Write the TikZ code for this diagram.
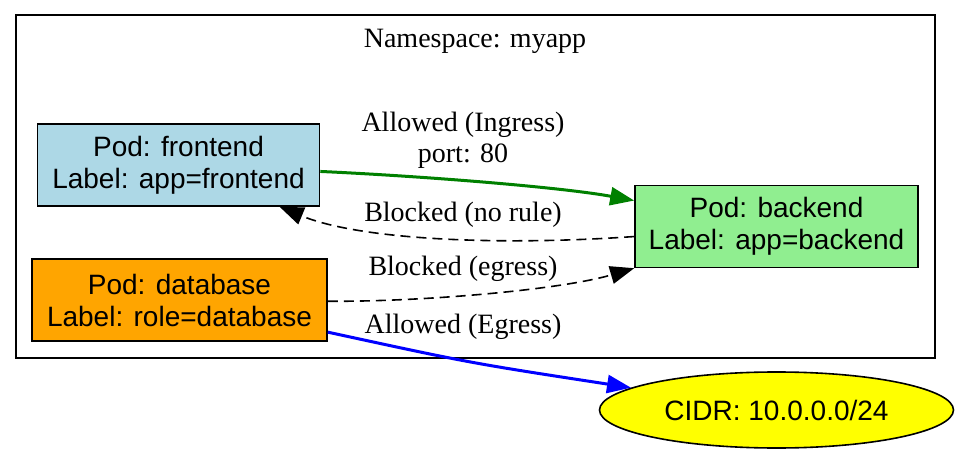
\documentclass[tikz,border=0pt]{standalone}
\usepackage{fontspec}
\setmainfont{Liberation Serif}
\newfontfamily\podfont{Liberation Sans}
\usepackage{xcolor}
\usetikzlibrary{arrows.meta, shapes.geometric, positioning}
\definecolor{C_FRONT}{HTML}{ADD8E6}
\definecolor{C_BACK}{HTML}{90EE90}
\definecolor{C_DB}{HTML}{FFA500}
\definecolor{C_CIDR}{HTML}{FFFF00}
\definecolor{C_ALLOW}{HTML}{008000}
\definecolor{C_EGRESS}{HTML}{0000FF}

\begin{document}
\begin{tikzpicture}[
  x=0.5pt, y=-0.5pt,
  pod/.style={draw, line width=0.8pt, minimum width=141pt, minimum height=41pt,
              inner sep=0pt, align=center, font=\podfont\fontsize{14}{16}\selectfont},
  cidr/.style={draw, ellipse, line width=0.8pt, fill=C_CIDR, minimum width=177pt,
               minimum height=38pt, inner sep=0pt, font=\podfont\fontsize{14}{16}\selectfont},
  ns/.style={draw, line width=0.8pt, minimum width=459.5pt, minimum height=171.5pt, inner sep=0pt},
  lbl/.style={align=center, inner sep=0pt, font=\fontsize{14}{15.5}\selectfont},
  allow/.style={-{Triangle[length=12pt, width=9pt]}, line width=1.5pt},
  block/.style={-{Triangle[length=12pt, width=9pt]}, line width=0.8pt, dash pattern=on 5pt off 3pt},
]
\useasboundingbox (0,0) rectangle (970,460);

%% Namespace cluster
\node[ns] (nsbox) at (475.5,186.5) {};
\node[lbl] (nstitle) at (475,41) {Namespace: myapp};

%% Pods
\node[pod, fill=C_FRONT] (front) at (178.5,165) {Pod: frontend\\Label: app=frontend};
\node[pod, fill=C_BACK, minimum width=141.5pt] (back) at (776.5,226.5) {Pod: backend\\Label: app=backend};
\node[pod, fill=C_DB, minimum width=147.5pt] (db) at (179.5,300) {Pod: database\\Label: role=database};

%% External
\node[cidr] (cidr) at (776.5,410) {CIDR: 10.0.0.0/24};

%% Policies
\draw[allow, C_ALLOW] (front) .. controls (420,176) and (560,187) .. (back);
\draw[block] (back) .. controls (500,246) and (360,240) .. (front);
\draw[block] (db) .. controls (420,302) and (560,290) .. (back);
\draw[allow, C_EGRESS] (db) .. controls (470,363) .. (cidr);

%% Labels
\node[lbl] (lblingress) at (463,140) {Allowed (Ingress)\\port: 80};
\node[lbl] (lblnorule)  at (463,215) {Blocked (no rule)};
\node[lbl] (lblblocked) at (463,269) {Blocked (egress)};
\node[lbl] (lblegress)  at (463,327) {Allowed (Egress)};

\end{tikzpicture}
\end{document}
